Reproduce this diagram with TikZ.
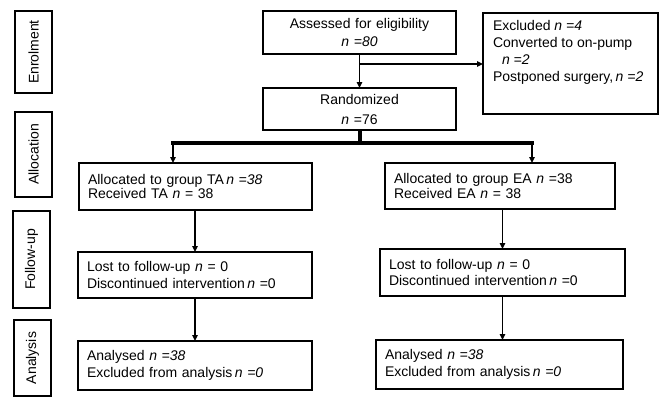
\documentclass[tikz,border=0pt]{standalone}
\usepackage{fontspec}
\setmainfont{Liberation Sans}
\usetikzlibrary{arrows.meta}
\begin{document}
\begin{tikzpicture}[x=1pt,y=-1pt,
  every node/.style={inner sep=0pt, outer sep=0pt},
  stage/.style={draw, line width=1.5pt, rotate=90, font=\fontsize{14}{16}\selectfont},
  box/.style={draw, line width=1.5pt, inner xsep=9pt, inner ysep=0pt, align=left},
  cbox/.style={draw, line width=1.5pt, inner xsep=4pt, inner ysep=0pt, align=center},
  arr/.style={line width=1.8pt, -{Triangle[length=6pt,width=5.5pt]}},
  thickline/.style={line width=4pt}
]
\useasboundingbox (0,0) rectangle (659,397);
% stage labels
\node[stage, minimum width=82pt, minimum height=37pt] (enrol) at (33.5,52) {Enrolment};
\node[stage, minimum width=85pt, minimum height=37pt] (alloc) at (33.5,154.5) {Allocation};
\node[stage, minimum width=97pt, minimum height=37pt] (follow) at (31.5,259.5) {Follow-up};
\node[stage, minimum width=76pt, minimum height=37pt] (anal) at (32.5,358) {Analysis};
% top boxes
\node[cbox, minimum width=193pt, minimum height=43pt, text width=185pt,
  font=\fontsize{14}{18}\selectfont] (assess) at (359.5,32.5)
  {Assessed for eligibility\\\textit{n =80}};
\node[cbox, minimum width=193pt, minimum height=42pt, text width=185pt,
  font=\fontsize{14}{20}\selectfont] (random) at (359.5,109)
  {Randomized\\\textit{n} =76};
\node[draw, line width=1.5pt, minimum width=175pt, minimum height=101pt] (excl) at (570.5,63.5) {};
\node[anchor=north west, align=left, font=\fontsize{14}{17}\selectfont] (excltext) at (493,20)
  {Excluded \textit{n =4}\\Converted to on-pump\\\hspace{9pt}\textit{n =2}\\Postponed surgery,\,\textit{n =2}};
% group boxes
\node[box, minimum height=47pt, text width=215pt, font=\fontsize{14}{14.5}\selectfont] (ta) at (195.5,186.5)
  {Allocated to group TA\,\textit{n =38}\\Received TA \textit{n} = 38};
\node[box, minimum height=46pt, text width=212pt, font=\fontsize{14}{14.5}\selectfont] (ea) at (500,186)
  {Allocated to group EA \textit{n} =38\\Received EA \textit{n} = 38};
\node[box, minimum height=46pt, text width=216pt, font=\fontsize{14}{16.7}\selectfont] (talost) at (195,275)
  {Lost to follow-up \textit{n} = 0\\Discontinued intervention\,\textit{n} =0};
\node[box, minimum height=47pt, text width=227pt, font=\fontsize{14}{16.7}\selectfont] (ealost) at (502.5,272.5)
  {Lost to follow-up \textit{n} = 0\\Discontinued intervention\,\textit{n} =0};
\node[box, minimum height=49pt, text width=216pt, font=\fontsize{14}{16.7}\selectfont] (taan) at (195,365.5)
  {Analysed \textit{n =38}\\Excluded from analysis\,\textit{n =0}};
\node[box, minimum height=49pt, text width=229pt, font=\fontsize{14}{16.7}\selectfont] (eaan) at (499.5,364.5)
  {Analysed \textit{n =38}\\Excluded from analysis\,\textit{n =0}};
% connectors
\coordinate (branch) at (359.5,64);
\coordinate (split) at (359.5,143);
\coordinate (splitL) at (173,143);
\coordinate (splitR) at (532,143);
\draw[arr] (assess.south) -- (random.north);
\draw[arr] (branch) -- (branch -| excl.west);
\draw[thickline] (random.south) -- (split);
\draw[thickline, line cap=rect] (splitL) -- (splitR);
\draw[arr] (splitL) -- (splitL |- ta.north);
\draw[arr] (splitR) -- (splitR |- ea.north);
\draw[arr] (talost.north |- ta.south) -- (talost.north);
\draw[arr] (talost.south) -- (talost.south |- taan.north);
\draw[arr] (ealost.north |- ea.south) -- (ealost.north);
\draw[arr] (ealost.south) -- (ealost.south |- eaan.north);
\end{tikzpicture}
\end{document}
